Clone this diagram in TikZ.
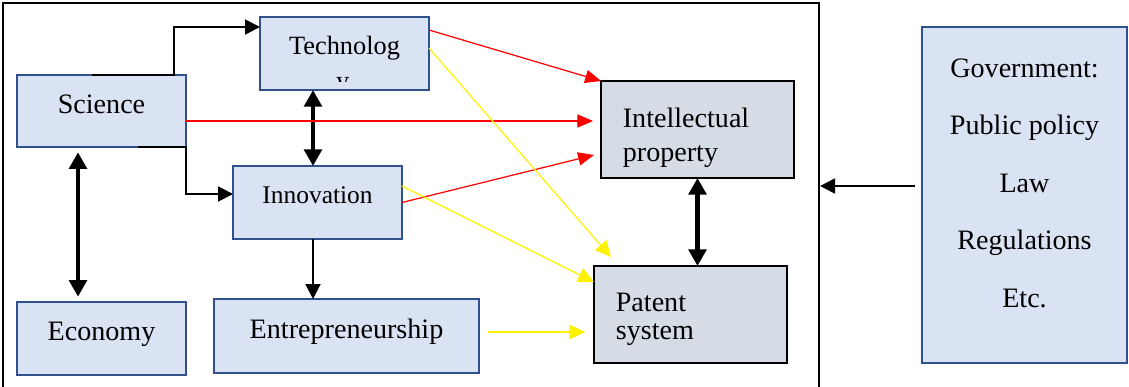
\documentclass[tikz,border=0pt]{standalone}
\usepackage{fontspec}
\setmainfont{Liberation Serif}
\usetikzlibrary{arrows.meta,positioning}
\definecolor{boxfill}{RGB}{218,227,243}
\definecolor{boxline}{RGB}{47,82,143}
\definecolor{greyfill}{RGB}{214,220,229}

\begin{document}
\begin{tikzpicture}[x=0.02cm,y=-0.02cm,
   bluebox/.style={draw=boxline,fill=boxfill,line width=1.3pt,outer sep=0pt,inner sep=0pt,
      minimum width=3.38cm,minimum height=1.46cm,font=\fontsize{16}{19}\selectfont},
   greybox/.style={draw=black,fill=greyfill,line width=1.6pt,outer sep=0pt,inner ysep=0pt,
      inner xsep=12pt,align=left,text width=85pt,minimum width=3.86cm,minimum height=1.94cm},
   lift/.style={text height=11pt,text depth=#1},
   thin/.style={-{Triangle[length=8.5pt,width=8.5pt]},line width=1.1pt},
   dbl/.style={{Triangle[length=9.5pt,width=10pt]}-{Triangle[length=9.5pt,width=10pt]},line width=2.6pt},
   redarr/.style={-{Triangle[length=9pt,width=7.5pt]},red,line width=0.7pt},
   yelarr/.style={-{Triangle[length=9pt,width=8.5pt]},yellow,line width=0.7pt}]
   \useasboundingbox (0,0) rectangle (1129,386);
   % frame round the system
   \node[draw,line width=1.3pt,inner sep=0pt,minimum width=16.32cm,minimum height=7.78cm] (sys) at (411,197.5) {};

   \node[bluebox,lift=8.7pt,minimum height=1.44cm] (science) at (101.5,111) {Science};
   \node[bluebox,lift=10.4pt,font=\fontsize{15}{18}\selectfont] (tech) at (344.5,53.5) {Technolog};
   \begin{scope}
      \clip (tech.north west) rectangle ([shift={(0,-8)}]tech.south east);
      \node[font=\fontsize{15}{18}\selectfont,anchor=base,inner sep=0pt] (techy) at ([xshift=-1pt]tech.south) {y};
   \end{scope}
   \node[bluebox,lift=10.4pt,font=\fontsize{14.5}{17}\selectfont] (innov) at (317.5,202.5) {Innovation};
   \node[bluebox,lift=8.2pt] (economy) at (101.5,338.5) {Economy};
   \node[bluebox,lift=7.6pt,minimum width=5.3cm,minimum height=1.48cm] (entre) at (346.5,336) {Entrepreneurship};
   \node[greybox,text depth=13.6pt,font=\fontsize{16}{19.3}\selectfont] (ip) at (697.5,129.5) {Intellectual\\property};
   \node[greybox,text depth=13.8pt,font=\fontsize{16}{15.9}\selectfont] (patent) at (690.5,314.5) {Patent\\system};
   \node[bluebox,align=center,text depth=13.8pt,font=\fontsize{16}{32.7}\selectfont,
      minimum width=4.1cm,minimum height=6.72cm] (gov) at (1024.5,195)
      {Government:\\Public policy\\Law\\Regulations\\Etc.};

   % black links
   \draw[thin] ([shift={(-9.5,0)}]science.north) -- ([shift={(-12,0)}]science.north east)
      |- ([shift={(0,10)}]tech.north west);
   \draw[thin] ([shift={(36.5,0)}]science.south) -- (science.south east)
      |- ([shift={(0,-8.5)}]innov.west);
   \coordinate (ti) at ([shift={(-31.5,0)}]tech.south);
   \draw[dbl] (ti) -- (ti |- innov.north);
   \coordinate (se) at ([shift={(-23.5,0)}]science.south);
   \draw[dbl,shorten <=3pt,shorten >=3pt] (se) -- (se |- economy.north);
   \coordinate (ie) at ([shift={(-4.5,0)}]innov.south);
   \draw[thin] (ie) -- (ie |- entre.north);
   \draw[dbl] (ip.south) -- (ip.south |- patent.north);
   \coordinate (gs) at ([shift={(-7,-9)}]gov.west);
   \draw[thin] (gs) -- (gs -| sys.east);

   % red links
   \draw[redarr] ([shift={(0,13)}]tech.north east) -- (ip.north west);
   \coordinate (sr) at ([shift={(0,10)}]science.east);
   \draw[redarr] (sr) -- ([xshift=-4.5pt]sr -| ip.west);
   \draw[redarr] (innov.east) -- ([shift={(-7,25.5)}]ip.west);

   % yellow links
   \draw[yelarr] ([shift={(0,-5.5)}]tech.east) -- ([shift={(17,-9)}]patent.north west);
   \draw[yelarr] ([shift={(0,-16.5)}]innov.east) -- ([shift={(0,-32.5)}]patent.west);
   \coordinate (es) at ([shift={(9,-4)}]entre.east);
   \coordinate (ee) at (es -| patent.west);
   \draw[yelarr] (es) -- ([xshift=-5pt]ee);
\end{tikzpicture}
\end{document}
